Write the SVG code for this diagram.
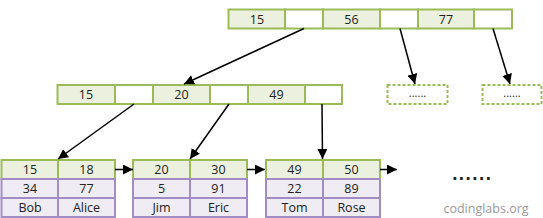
<svg xmlns="http://www.w3.org/2000/svg" width="543" height="218" viewBox="0 0 543 218">
<defs>
<marker id="ah" viewBox="0 0 10 10" refX="10" refY="5" markerWidth="10" markerHeight="10" markerUnits="userSpaceOnUse" orient="auto"><path d="M0,0 L10,5 L0,10 z" fill="#000"/></marker>
<style>
.g{fill:#ebf1de;stroke:#9bbb59;stroke-width:2}
.w{fill:#fff;stroke:#9bbb59;stroke-width:2}
.p{fill:#efecf4;stroke:#a28cc6;stroke-width:2}
.d{fill:none;stroke:#9bbb59;stroke-width:2;stroke-dasharray:3,2}
.t{font-family:"Open Sans","Noto Sans",sans-serif;font-size:12.5px;fill:#222;text-anchor:middle}
.c{stroke:#000;stroke-width:1.5;fill:none;marker-end:url(#ah)}
</style>
</defs>
<rect width="543" height="218" fill="#fff"/>
<g id="root">
<rect class="g" x="228.5" y="9.5" width="56.5" height="19"/>
<rect class="w" x="285" y="9.5" width="38" height="19"/>
<rect class="g" x="323" y="9.5" width="57" height="19"/>
<rect class="w" x="380" y="9.5" width="38" height="19"/>
<rect class="g" x="418" y="9.5" width="56" height="19"/>
<rect class="w" x="474" y="9.5" width="38" height="19"/>
<text class="t" x="257" y="23.5">15</text>
<text class="t" x="351.5" y="23.5">56</text>
<text class="t" x="446" y="23.5">77</text>
</g>
<g id="mid">
<rect class="g" x="57.5" y="85" width="57.5" height="19"/>
<rect class="w" x="115" y="85" width="38" height="19"/>
<rect class="g" x="153" y="85" width="57" height="19"/>
<rect class="w" x="210" y="85" width="38" height="19"/>
<rect class="g" x="248" y="85" width="57" height="19"/>
<rect class="w" x="305" y="85" width="37" height="19"/>
<text class="t" x="86" y="99">15</text>
<text class="t" x="181.5" y="99">20</text>
<text class="t" x="276.5" y="99">49</text>
</g>
<g id="dash1">
<rect class="d" x="387.5" y="85" width="60" height="19"/>
<text class="t" x="417.5" y="97" style="font-size:11px">......</text>
</g>
<g id="dash2">
<rect class="d" x="482.5" y="85" width="59" height="19"/>
<text class="t" x="512" y="97" style="font-size:11px">......</text>
</g>
<g id="leaf1">
<rect class="g" x="1.5" y="160" width="56.5" height="19"/>
<rect class="g" x="58" y="160" width="57" height="19"/>
<rect class="p" x="1.5" y="179" width="56.5" height="19"/>
<rect class="p" x="58" y="179" width="57" height="19"/>
<rect class="p" x="1.5" y="198" width="56.5" height="19"/>
<rect class="p" x="58" y="198" width="57" height="19"/>
<text class="t" x="30" y="174">15</text><text class="t" x="86.5" y="174">18</text>
<text class="t" x="30" y="193">34</text><text class="t" x="86.5" y="193">77</text>
<text class="t" x="30" y="212">Bob</text><text class="t" x="86.5" y="212">Alice</text>
</g>
<g id="leaf2">
<rect class="g" x="133" y="160" width="57" height="19"/>
<rect class="g" x="190" y="160" width="57" height="19"/>
<rect class="p" x="133" y="179" width="57" height="19"/>
<rect class="p" x="190" y="179" width="57" height="19"/>
<rect class="p" x="133" y="198" width="57" height="19"/>
<rect class="p" x="190" y="198" width="57" height="19"/>
<text class="t" x="161.5" y="174">20</text><text class="t" x="218.5" y="174">30</text>
<text class="t" x="161.5" y="193">5</text><text class="t" x="218.5" y="193">91</text>
<text class="t" x="161.5" y="212">Jim</text><text class="t" x="218.5" y="212">Eric</text>
</g>
<g id="leaf3">
<rect class="g" x="266" y="160" width="57" height="19"/>
<rect class="g" x="323" y="160" width="57" height="19"/>
<rect class="p" x="266" y="179" width="57" height="19"/>
<rect class="p" x="323" y="179" width="57" height="19"/>
<rect class="p" x="266" y="198" width="57" height="19"/>
<rect class="p" x="323" y="198" width="57" height="19"/>
<text class="t" x="294.5" y="174">49</text><text class="t" x="351.5" y="174">50</text>
<text class="t" x="294.5" y="193">22</text><text class="t" x="351.5" y="193">89</text>
<text class="t" x="294.5" y="212">Tom</text><text class="t" x="351.5" y="212">Rose</text>
</g>
<g id="connectors">
<line class="c" x1="304" y1="28.5" x2="184" y2="84"/>
<line class="c" x1="400" y1="28.5" x2="415" y2="84"/>
<line class="c" x1="493" y1="28.5" x2="510" y2="84"/>
<line class="c" x1="134" y1="104" x2="58" y2="159"/>
<line class="c" x1="229" y1="104" x2="190" y2="159"/>
<line class="c" x1="322" y1="104" x2="322.5" y2="159"/>
<line class="c" x1="115" y1="169.5" x2="133" y2="169.5"/>
<line class="c" x1="247" y1="169.5" x2="265" y2="169.5"/>
<line class="c" x1="380" y1="169.5" x2="397" y2="169.5"/>
</g>
<text x="472" y="180" style="font-family:'DejaVu Sans',sans-serif;font-size:15px;font-weight:bold;fill:#222;text-anchor:middle;letter-spacing:1px">......</text>
<text x="486" y="213" style="font-family:'Open Sans','Noto Sans',sans-serif;font-size:12.5px;fill:#999;text-anchor:middle">codinglabs.org</text>
</svg>
